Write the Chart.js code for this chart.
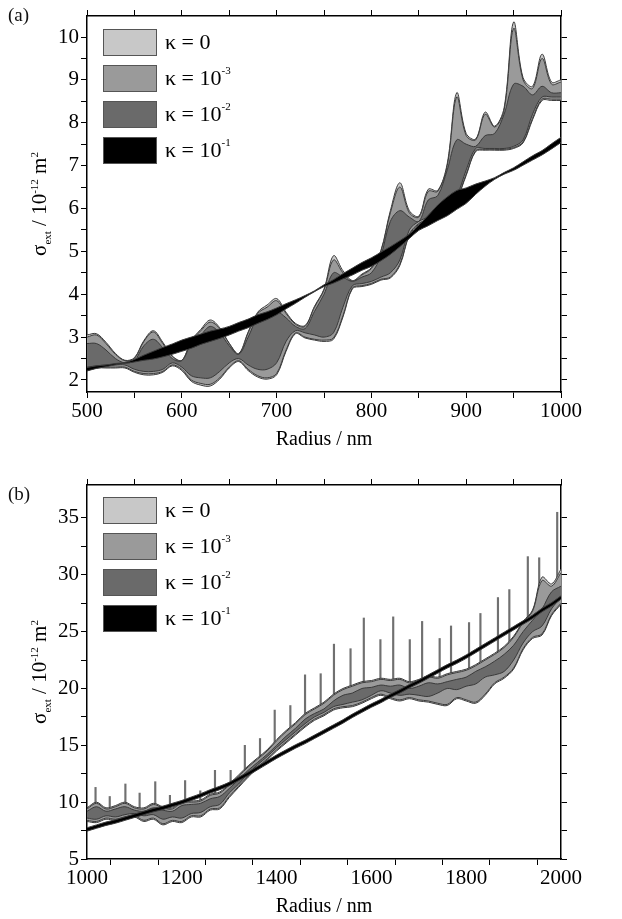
<!DOCTYPE html>
<html>
<head>
<meta charset="utf-8">
<script src="https://cdn.jsdelivr.net/npm/chart.js@4.4.1/dist/chart.umd.min.js"></script>
<style>
  body { margin: 0; background: #fff; font-family: "Liberation Serif", serif; }
  #wrap { position: relative; width: 622px; height: 919px; }
  canvas { position: absolute; left: 0; }
  .lbl { position: absolute; font-size: 19px; color: #111; }
  .ytitle { position: absolute; font-size: 21px; white-space: nowrap; transform: translate(-50%, -50%) rotate(-90deg); }
  .ytitle sub { font-size: 11px; }
  .up { font-size: 11px; position: relative; top: -8px; }
  .leg { position: absolute; left: 103px; }
  .row { height: 36px; display: flex; align-items: center; font-size: 22px; }
  .sw { width: 54px; height: 27px; border: 1px solid #555; margin-right: 8px; box-sizing: border-box; }
</style>
</head>
<body>
<div id="wrap">
  <canvas id="chartA" width="622" height="460" style="top:0"></canvas>
  <canvas id="chartB" width="622" height="459" style="top:460px"></canvas>
  <div class="lbl" style="left:8px;top:4px">(a)</div>
  <div class="lbl" style="left:8px;top:483px">(b)</div>
  <div class="ytitle" style="left:40px;top:204px">σ<sub>ext</sub> / 10<span class="up">-12</span> m<span class="up">2</span></div>
  <div class="ytitle" style="left:40px;top:672px">σ<sub>ext</sub> / 10<span class="up">-12</span> m<span class="up">2</span></div>
  <div class="leg" style="top:24px">
    <div class="row"><div class="sw" style="background:#c8c8c8"></div>κ = 0</div>
    <div class="row"><div class="sw" style="background:#9a9a9a"></div>κ = 10<span class="up">-3</span></div>
    <div class="row"><div class="sw" style="background:#6a6a6a"></div>κ = 10<span class="up">-2</span></div>
    <div class="row"><div class="sw" style="background:#000"></div>κ = 10<span class="up">-1</span></div>
  </div>
  <div class="leg" style="top:492px">
    <div class="row"><div class="sw" style="background:#c8c8c8"></div>κ = 0</div>
    <div class="row"><div class="sw" style="background:#9a9a9a"></div>κ = 10<span class="up">-3</span></div>
    <div class="row"><div class="sw" style="background:#6a6a6a"></div>κ = 10<span class="up">-2</span></div>
    <div class="row"><div class="sw" style="background:#000"></div>κ = 10<span class="up">-1</span></div>
  </div>
</div>
<script>
// ---- panel (a): radius 500..1000 nm, step 10
const aRadius = [500,510,520,530,540,550,560,570,580,590,600,610,620,630,640,650,660,670,680,690,700,
  710,720,730,740,750,760,770,780,790,800,810,820,830,840,850,860,870,880,890,900,
  910,920,930,940,950,960,970,980,990,1000];
const a2Upper = [2.85,2.85,2.7,2.5,2.4,2.45,2.8,2.95,2.75,2.5,2.45,2.85,3.05,3.25,3.1,2.8,2.6,3.0,3.45,3.55,3.6,
  3.45,3.25,3.2,3.6,4.0,4.5,4.4,4.3,4.4,4.5,4.9,5.7,5.95,5.8,5.7,6.2,6.3,6.9,7.6,7.5,
  7.45,7.7,7.75,8.2,8.9,8.85,8.65,8.85,8.7,8.7];
const a2Lower = [2.3,2.33,2.35,2.35,2.35,2.25,2.2,2.2,2.25,2.4,2.3,2.1,2.05,2.05,2.2,2.4,2.5,2.35,2.25,2.25,2.4,
  2.9,3.15,3.1,3.05,3.0,3.1,3.7,4.2,4.25,4.3,4.4,4.5,4.8,5.5,5.7,5.8,5.95,6.1,6.3,6.9,
  7.4,7.4,7.4,7.4,7.45,7.6,8.2,8.6,8.6,8.6];
const a3Upper = [3.0,3.05,2.85,2.6,2.45,2.5,2.9,3.12,2.85,2.55,2.45,2.9,3.15,3.35,3.2,2.85,2.6,3.1,3.55,3.7,3.85,
  3.55,3.3,3.25,3.7,4.1,4.8,4.5,4.3,4.45,4.6,5.0,5.9,6.5,5.9,5.8,6.4,6.4,7.0,8.6,7.7,
  7.6,8.2,7.9,8.3,10.2,9.0,8.8,9.5,8.9,8.95];
const a3Lower = [2.25,2.3,2.3,2.3,2.3,2.2,2.15,2.15,2.2,2.35,2.25,2.0,1.92,1.9,2.05,2.3,2.45,2.25,2.1,2.05,2.15,
  2.7,3.1,3.0,2.95,2.93,2.98,3.5,4.15,4.2,4.25,4.35,4.4,4.7,5.4,5.65,5.75,5.9,6.05,6.25,6.8,
  7.35,7.38,7.38,7.38,7.42,7.55,8.1,8.55,8.55,8.55];
const a0Upper = [3.05,3.08,2.88,2.62,2.46,2.52,2.92,3.15,2.88,2.56,2.46,2.92,3.18,3.4,3.22,2.86,2.62,3.12,3.58,3.75,3.9,
  3.58,3.32,3.27,3.72,4.12,4.9,4.55,4.32,4.47,4.62,5.02,5.95,6.6,5.95,5.82,6.45,6.42,7.05,8.7,7.75,
  7.62,8.25,7.92,8.35,10.35,9.05,8.85,9.6,8.95,9.0];
const a0Lower = [2.22,2.28,2.28,2.28,2.28,2.18,2.12,2.12,2.18,2.33,2.22,1.97,1.88,1.86,2.02,2.28,2.43,2.22,2.07,2.02,2.12,
  2.67,3.08,2.98,2.93,2.9,2.95,3.47,4.13,4.18,4.23,4.33,4.38,4.67,5.37,5.63,5.73,5.88,6.03,6.23,6.77,
  7.33,7.36,7.36,7.36,7.4,7.53,8.07,8.52,8.52,8.52];
const a1Center = [2.25,2.3,2.33,2.37,2.4,2.45,2.52,2.58,2.65,2.72,2.8,2.87,2.95,3.02,3.08,3.15,3.24,3.32,3.42,3.5,3.6,
  3.72,3.83,3.95,4.07,4.2,4.3,4.42,4.53,4.65,4.75,4.88,5.02,5.18,5.35,5.55,5.72,5.9,6.05,6.2,6.3,
  6.45,6.58,6.7,6.82,6.92,7.05,7.18,7.3,7.45,7.6];
const a1Half = [0.04,0.03,0.02,0.015,0.01,0.03,0.06,0.09,0.11,0.12,0.13,0.13,0.12,0.12,0.11,0.1,0.1,0.1,0.1,0.09,0.08,
  0.06,0.04,0.02,0.01,0.02,0.04,0.06,0.08,0.09,0.1,0.1,0.09,0.07,0.05,0.06,0.12,0.18,0.22,0.22,0.18,
  0.12,0.06,0.02,0.02,0.03,0.04,0.05,0.05,0.06,0.06];
const aYTicks = [2,3,4,5,6,7,8,9,10];

// ---- panel (b): radius 1000..2000 nm, step 20
const bRadius = [1000,1020,1040,1060,1080,1100,1120,1140,1160,1180,1200,1220,1240,1260,1280,1300,1320,1340,1360,1380,1400,
  1420,1440,1460,1480,1500,1520,1540,1560,1580,1600,1620,1640,1660,1680,1700,1720,1740,1760,1780,1800,
  1820,1840,1860,1880,1900,1920,1940,1960,1980,2000];
const b2Upper = [9.2,9.6,9.2,9.4,9.6,9.3,9.2,9.5,9.3,9.2,9.7,9.8,9.9,10.3,10.5,11.2,12.0,12.8,13.5,14.2,15.0,
  15.8,16.5,17.3,17.8,18.2,18.9,19.4,19.6,20.0,20.1,20.3,20.2,20.3,20.0,20.2,20.5,20.4,20.6,20.8,21.0,
  21.5,21.9,22.4,23.0,23.8,25.0,26.0,27.0,28.5,29.0];
const b2Lower = [8.6,8.5,8.8,8.7,8.9,9.0,8.8,8.9,8.5,8.7,8.6,9.0,9.1,9.6,9.8,10.8,11.6,12.5,13.3,14.0,14.8,
  15.5,16.2,16.9,17.5,17.9,18.4,18.6,18.8,19.0,19.4,19.8,19.6,19.4,19.5,19.4,19.3,19.6,20.0,19.9,20.2,
  20.4,21.0,21.2,21.5,22.5,24.0,25.0,25.5,27.0,28.0];
const b3Upper = [9.4,9.9,9.4,9.6,9.9,9.5,9.4,9.8,9.5,9.4,10.0,10.0,10.1,10.6,10.8,11.5,12.3,13.1,13.8,14.5,15.4,
  16.2,16.9,17.7,18.2,18.7,19.4,19.9,20.2,20.5,20.6,20.8,20.7,20.8,20.5,20.7,21.0,20.9,21.2,21.4,21.6,
  22.0,22.5,23.0,23.6,24.5,25.8,26.8,29.5,29.0,30.2];
const b3Lower = [8.4,8.3,8.6,8.5,8.7,8.8,8.4,8.6,8.1,8.4,8.3,8.8,8.8,9.4,9.5,10.5,11.4,12.3,13.1,13.8,14.6,
  15.3,16.0,16.7,17.3,17.7,18.2,18.4,18.5,18.8,19.2,19.5,19.2,19.0,19.2,19.0,18.9,18.7,18.6,19.2,19.0,
  18.8,19.5,20.5,21.0,21.8,23.5,24.5,24.8,26.5,27.5];
const b0Upper = [9.5,10.0,9.5,9.7,10.0,9.6,9.5,9.9,9.6,9.5,10.1,10.1,10.2,10.7,10.9,11.6,12.4,13.2,13.9,14.6,15.5,
  16.3,17.0,17.8,18.3,18.8,19.5,20.0,20.3,20.6,20.7,20.9,20.8,20.9,20.6,20.8,21.1,21.0,21.3,21.5,21.7,
  22.1,22.6,23.1,23.7,24.6,25.9,26.9,29.8,29.2,30.5];
const b0Lower = [8.3,8.2,8.5,8.4,8.6,8.7,8.3,8.5,8.0,8.3,8.2,8.7,8.7,9.3,9.4,10.4,11.3,12.2,13.0,13.7,14.5,
  15.2,15.9,16.6,17.2,17.6,18.1,18.3,18.4,18.7,19.1,19.4,19.1,18.9,19.1,18.9,18.8,18.6,18.5,19.1,18.9,
  18.7,19.4,20.4,20.9,21.7,23.4,24.4,24.7,26.4,27.4];
const b1Center = [7.6,7.85,8.1,8.3,8.55,8.8,9.05,9.3,9.5,9.75,10.0,10.3,10.6,10.95,11.25,11.6,12.05,12.5,13.0,13.5,14.0,
  14.45,14.9,15.3,15.75,16.2,16.65,17.1,17.6,18.05,18.5,18.9,19.35,19.75,20.2,20.6,21.05,21.5,21.95,22.35,22.8,
  23.3,23.8,24.3,24.8,25.3,25.8,26.3,26.9,27.4,28.0];
const b1Half = [0.15,0.15,0.15,0.15,0.15,0.15,0.15,0.15,0.15,0.15,0.15,0.15,0.15,0.15,0.15,0.15,0.15,0.15,0.15,0.15,0.15,
  0.15,0.15,0.15,0.15,0.15,0.15,0.15,0.15,0.15,0.15,0.15,0.15,0.15,0.15,0.15,0.15,0.15,0.15,0.15,0.15,
  0.15,0.15,0.15,0.15,0.15,0.15,0.15,0.15,0.15,0.15];
const bYTicks = [5,10,15,20,25,30,35];
// κ = 0 narrow resonance spikes
const spikeRadius = [1018,1048,1081,1111,1144,1175,1207,1239,1270,1303,1333,1365,1396,1429,1460,1493,
  1521,1556,1584,1619,1646,1681,1707,1744,1768,1806,1830,1867,1891,1930,1954,1992];
const spikePeak = [11.3,10.5,11.6,10.8,11.8,10.6,11.9,11.0,12.8,12.8,15.0,15.6,18.1,18.5,21.2,21.3,
  23.9,23.5,26.2,24.3,26.3,24.3,25.9,24.4,25.5,25.8,26.6,28.0,28.7,31.6,31.5,35.5];
const spikeBase = [9.5,9.3,9.5,9.3,9.4,9.2,9.7,9.9,10.4,11.2,12.6,13.6,14.8,16.0,17.3,18.1,
  18.9,19.6,20.0,20.3,20.2,20.0,20.3,20.4,20.6,21.1,21.7,22.6,23.4,25.5,26.5,29.0];

const colors = ['#c8c8c8', '#9a9a9a', '#6a6a6a', '#000000'];
const edge = '#3a3a3a';

function pts(xs, ys) { return xs.map((x, i) => ({ x: x, y: ys[i] })); }

function band(xs, lower, upper, color, order) {
  const base = { type: 'line', pointRadius: 0, borderColor: edge, borderWidth: 1, tension: 0.35, order: order };
  return [
    Object.assign({}, base, { data: pts(xs, lower), fill: false }),
    Object.assign({}, base, { data: pts(xs, upper), fill: '-1', backgroundColor: color })
  ];
}

function addSub(c, h, sign) { return c.map((v, i) => v + sign * h[i]); }

function minorTicks(lo, hi, step) {
  const out = [];
  for (let v = lo; v <= hi + 1e-9; v += step) out.push({ value: Math.round(v * 1000) / 1000 });
  return out;
}

function axes(xmin, xmax, xstep, xlabEvery, ymin, ymax, yTicks, xHeight) {
  const tickFont = { family: 'Liberation Serif', size: 21 };
  const grid = { drawOnChartArea: false, drawTicks: true, tickLength: 6, color: '#000', tickWidth: 1 };
  const border = { color: '#000', width: 1.5 };
  const yStep = (yTicks[1] - yTicks[0]) / 2;
  const yList = () => minorTicks(yTicks[0], yTicks[yTicks.length - 1], yStep);
  const yLabel = v => (yTicks.indexOf(v) >= 0 ? v : '');
  return {
    x: {
      type: 'linear', min: xmin, max: xmax, offset: false, grid: grid, border: border,
      ticks: { stepSize: xstep, color: '#000', font: tickFont, maxRotation: 0, padding: 1,
        callback: v => (v % xlabEvery === 0 ? v : '') },
      title: { display: true, text: 'Radius / nm', color: '#000', font: { family: 'Liberation Serif', size: 20 }, padding: 0 },
      afterFit: s => { s.height = xHeight; }
    },
    xTop: {
      type: 'linear', position: 'top', min: xmin, max: xmax, offset: false, grid: Object.assign({}, grid), border: border,
      ticks: { stepSize: xstep, display: false }, afterFit: s => { s.height = 6; }
    },
    y: {
      min: ymin, max: ymax, grid: grid, border: border,
      afterBuildTicks: s => { s.ticks = yList(); },
      ticks: { color: '#000', font: tickFont, padding: 2, autoSkip: false, callback: yLabel },
      afterFit: s => { s.width = 87; }
    },
    yRight: {
      position: 'right', min: ymin, max: ymax, grid: Object.assign({}, grid), border: border,
      afterBuildTicks: s => { s.ticks = yList(); },
      ticks: { display: false }, afterFit: s => { s.width = 6; }
    }
  };
}

const common = {
  responsive: false, animation: false,
  plugins: { legend: { display: false }, tooltip: { enabled: false } }
};

new Chart(document.getElementById('chartA'), {
  type: 'line',
  data: {
    datasets: [].concat(
      band(aRadius, a0Lower, a0Upper, colors[0], 4),
      band(aRadius, a3Lower, a3Upper, colors[1], 3),
      band(aRadius, a2Lower, a2Upper, colors[2], 2),
      band(aRadius, addSub(a1Center, a1Half, -1), addSub(a1Center, a1Half, 1), colors[3], 1)
    )
  },
  options: Object.assign({}, common, {
    layout: { padding: { top: 10, right: 55, left: 0, bottom: 8 } },
    scales: axes(500, 1000, 50, 100, 1.72, 10.49, aYTicks, 60)
  })
});

new Chart(document.getElementById('chartB'), {
  type: 'line',
  data: {
    datasets: [].concat(
      [{ type: 'bar', data: spikeRadius.map((x, i) => ({ x: x, y: [spikeBase[i], spikePeak[i]] })),
         backgroundColor: '#707070', borderWidth: 0, barThickness: 1.5, order: 5 }],
      band(bRadius, b0Lower, b0Upper, colors[0], 4),
      band(bRadius, b3Lower, b3Upper, colors[1], 3),
      band(bRadius, b2Lower, b2Upper, colors[2], 2),
      band(bRadius, addSub(b1Center, b1Half, -1), addSub(b1Center, b1Half, 1), colors[3], 1)
    )
  },
  options: Object.assign({}, common, {
    layout: { padding: { top: 19, right: 55, left: 0, bottom: 0 } },
    scales: axes(1000, 2000, 100, 200, 5, 37.9, bYTicks, 60)
  })
});
</script>
</body>
</html>
